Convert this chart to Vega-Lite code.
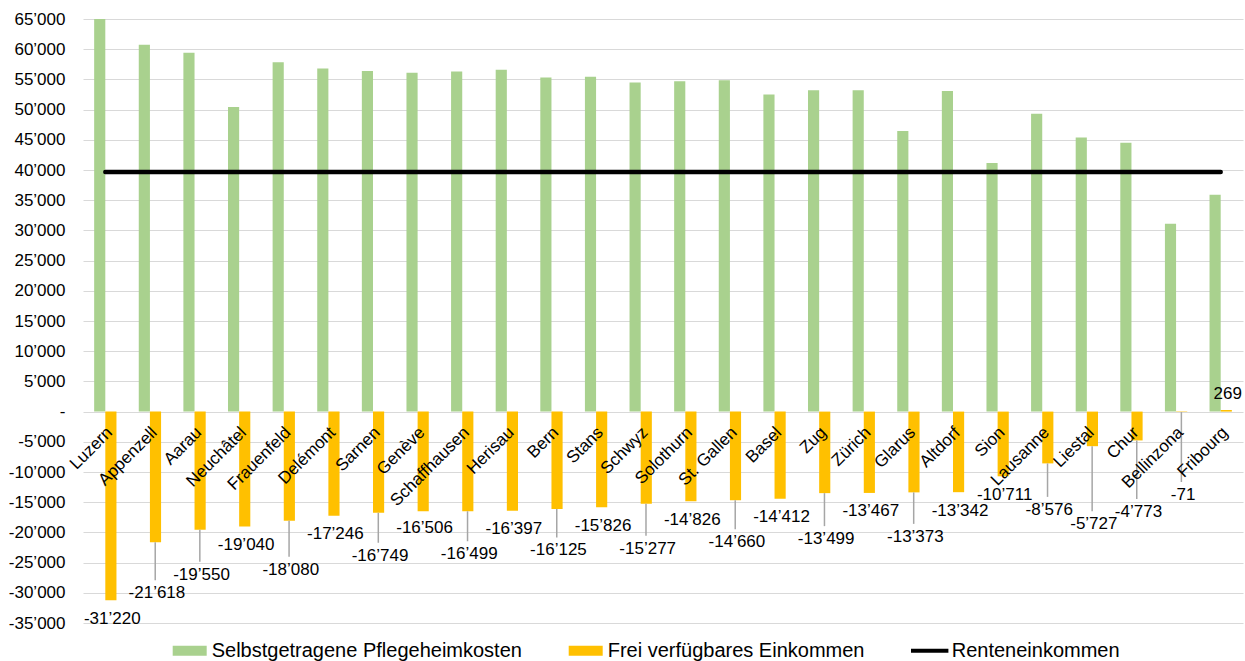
{
  "$schema": "https://vega.github.io/schema/vega-lite/v6.json",
  "autosize": {"type": "none"},
  "width": 1160,
  "height": 604,
  "padding": {"left": 83, "top": 19, "right": 2, "bottom": 38},
  "background": "white",
  "config": {
    "locale": {"number": {"decimal": ".", "thousands": "’", "grouping": [3], "currency": ["", ""], "minus": "-"}},
    "view": {"stroke": null},
    "font": "Liberation Sans",
    "axis": {"labelOverlap": false, "labelFlush": false, "labelBound": false}
  },
  "params": [
    {"name": "off", "value": {
      "Luzern": 19, "Appenzell": 51, "Aarau": 45, "Neuchâtel": 18.5, "Frauenfeld": 49, "Delémont": 18.5,
      "Sarnen": 43, "Genève": 17, "Schaffhausen": 43, "Herisau": 18.5, "Bern": 41.5, "Stans": 18.5,
      "Schwyz": 45, "Solothurn": 18.5, "St. Gallen": 42, "Basel": 18.5, "Zug": 46, "Zürich": 18.5,
      "Glarus": 44.5, "Altdorf": 18.5, "Sion": 18.5, "Lausanne": 46.5, "Liestal": 78, "Chur": 71.5,
      "Bellinzona": 83, "Fribourg": -16
    }}
  ],
  "data": {"values": [
    {"stadt": "Luzern", "reihe": "Selbstgetragene Pflegeheimkosten", "wert": 65000},
    {"stadt": "Luzern", "reihe": "Frei verfügbares Einkommen", "wert": -31220},
    {"stadt": "Luzern", "reihe": "Renteneinkommen", "wert": 39650},
    {"stadt": "Appenzell", "reihe": "Selbstgetragene Pflegeheimkosten", "wert": 60750},
    {"stadt": "Appenzell", "reihe": "Frei verfügbares Einkommen", "wert": -21618},
    {"stadt": "Appenzell", "reihe": "Renteneinkommen", "wert": 39650},
    {"stadt": "Aarau", "reihe": "Selbstgetragene Pflegeheimkosten", "wert": 59400},
    {"stadt": "Aarau", "reihe": "Frei verfügbares Einkommen", "wert": -19550},
    {"stadt": "Aarau", "reihe": "Renteneinkommen", "wert": 39650},
    {"stadt": "Neuchâtel", "reihe": "Selbstgetragene Pflegeheimkosten", "wert": 50450},
    {"stadt": "Neuchâtel", "reihe": "Frei verfügbares Einkommen", "wert": -19040},
    {"stadt": "Neuchâtel", "reihe": "Renteneinkommen", "wert": 39650},
    {"stadt": "Frauenfeld", "reihe": "Selbstgetragene Pflegeheimkosten", "wert": 57850},
    {"stadt": "Frauenfeld", "reihe": "Frei verfügbares Einkommen", "wert": -18080},
    {"stadt": "Frauenfeld", "reihe": "Renteneinkommen", "wert": 39650},
    {"stadt": "Delémont", "reihe": "Selbstgetragene Pflegeheimkosten", "wert": 56800},
    {"stadt": "Delémont", "reihe": "Frei verfügbares Einkommen", "wert": -17246},
    {"stadt": "Delémont", "reihe": "Renteneinkommen", "wert": 39650},
    {"stadt": "Sarnen", "reihe": "Selbstgetragene Pflegeheimkosten", "wert": 56400},
    {"stadt": "Sarnen", "reihe": "Frei verfügbares Einkommen", "wert": -16749},
    {"stadt": "Sarnen", "reihe": "Renteneinkommen", "wert": 39650},
    {"stadt": "Genève", "reihe": "Selbstgetragene Pflegeheimkosten", "wert": 56100},
    {"stadt": "Genève", "reihe": "Frei verfügbares Einkommen", "wert": -16506},
    {"stadt": "Genève", "reihe": "Renteneinkommen", "wert": 39650},
    {"stadt": "Schaffhausen", "reihe": "Selbstgetragene Pflegeheimkosten", "wert": 56300},
    {"stadt": "Schaffhausen", "reihe": "Frei verfügbares Einkommen", "wert": -16499},
    {"stadt": "Schaffhausen", "reihe": "Renteneinkommen", "wert": 39650},
    {"stadt": "Herisau", "reihe": "Selbstgetragene Pflegeheimkosten", "wert": 56600},
    {"stadt": "Herisau", "reihe": "Frei verfügbares Einkommen", "wert": -16397},
    {"stadt": "Herisau", "reihe": "Renteneinkommen", "wert": 39650},
    {"stadt": "Bern", "reihe": "Selbstgetragene Pflegeheimkosten", "wert": 55300},
    {"stadt": "Bern", "reihe": "Frei verfügbares Einkommen", "wert": -16125},
    {"stadt": "Bern", "reihe": "Renteneinkommen", "wert": 39650},
    {"stadt": "Stans", "reihe": "Selbstgetragene Pflegeheimkosten", "wert": 55450},
    {"stadt": "Stans", "reihe": "Frei verfügbares Einkommen", "wert": -15826},
    {"stadt": "Stans", "reihe": "Renteneinkommen", "wert": 39650},
    {"stadt": "Schwyz", "reihe": "Selbstgetragene Pflegeheimkosten", "wert": 54500},
    {"stadt": "Schwyz", "reihe": "Frei verfügbares Einkommen", "wert": -15277},
    {"stadt": "Schwyz", "reihe": "Renteneinkommen", "wert": 39650},
    {"stadt": "Solothurn", "reihe": "Selbstgetragene Pflegeheimkosten", "wert": 54700},
    {"stadt": "Solothurn", "reihe": "Frei verfügbares Einkommen", "wert": -14826},
    {"stadt": "Solothurn", "reihe": "Renteneinkommen", "wert": 39650},
    {"stadt": "St. Gallen", "reihe": "Selbstgetragene Pflegeheimkosten", "wert": 54850},
    {"stadt": "St. Gallen", "reihe": "Frei verfügbares Einkommen", "wert": -14660},
    {"stadt": "St. Gallen", "reihe": "Renteneinkommen", "wert": 39650},
    {"stadt": "Basel", "reihe": "Selbstgetragene Pflegeheimkosten", "wert": 52500},
    {"stadt": "Basel", "reihe": "Frei verfügbares Einkommen", "wert": -14412},
    {"stadt": "Basel", "reihe": "Renteneinkommen", "wert": 39650},
    {"stadt": "Zug", "reihe": "Selbstgetragene Pflegeheimkosten", "wert": 53200},
    {"stadt": "Zug", "reihe": "Frei verfügbares Einkommen", "wert": -13499},
    {"stadt": "Zug", "reihe": "Renteneinkommen", "wert": 39650},
    {"stadt": "Zürich", "reihe": "Selbstgetragene Pflegeheimkosten", "wert": 53200},
    {"stadt": "Zürich", "reihe": "Frei verfügbares Einkommen", "wert": -13467},
    {"stadt": "Zürich", "reihe": "Renteneinkommen", "wert": 39650},
    {"stadt": "Glarus", "reihe": "Selbstgetragene Pflegeheimkosten", "wert": 46450},
    {"stadt": "Glarus", "reihe": "Frei verfügbares Einkommen", "wert": -13373},
    {"stadt": "Glarus", "reihe": "Renteneinkommen", "wert": 39650},
    {"stadt": "Altdorf", "reihe": "Selbstgetragene Pflegeheimkosten", "wert": 53100},
    {"stadt": "Altdorf", "reihe": "Frei verfügbares Einkommen", "wert": -13342},
    {"stadt": "Altdorf", "reihe": "Renteneinkommen", "wert": 39650},
    {"stadt": "Sion", "reihe": "Selbstgetragene Pflegeheimkosten", "wert": 41150},
    {"stadt": "Sion", "reihe": "Frei verfügbares Einkommen", "wert": -10711},
    {"stadt": "Sion", "reihe": "Renteneinkommen", "wert": 39650},
    {"stadt": "Lausanne", "reihe": "Selbstgetragene Pflegeheimkosten", "wert": 49300},
    {"stadt": "Lausanne", "reihe": "Frei verfügbares Einkommen", "wert": -8576},
    {"stadt": "Lausanne", "reihe": "Renteneinkommen", "wert": 39650},
    {"stadt": "Liestal", "reihe": "Selbstgetragene Pflegeheimkosten", "wert": 45400},
    {"stadt": "Liestal", "reihe": "Frei verfügbares Einkommen", "wert": -5727},
    {"stadt": "Liestal", "reihe": "Renteneinkommen", "wert": 39650},
    {"stadt": "Chur", "reihe": "Selbstgetragene Pflegeheimkosten", "wert": 44500},
    {"stadt": "Chur", "reihe": "Frei verfügbares Einkommen", "wert": -4773},
    {"stadt": "Chur", "reihe": "Renteneinkommen", "wert": 39650},
    {"stadt": "Bellinzona", "reihe": "Selbstgetragene Pflegeheimkosten", "wert": 31100},
    {"stadt": "Bellinzona", "reihe": "Frei verfügbares Einkommen", "wert": -71},
    {"stadt": "Bellinzona", "reihe": "Renteneinkommen", "wert": 39650},
    {"stadt": "Fribourg", "reihe": "Selbstgetragene Pflegeheimkosten", "wert": 35900},
    {"stadt": "Fribourg", "reihe": "Frei verfügbares Einkommen", "wert": 269},
    {"stadt": "Fribourg", "reihe": "Renteneinkommen", "wert": 39650}
  ]},
  "encoding": {
    "x": {"field": "stadt", "type": "nominal", "sort": null, "axis": null, "scale": {"paddingInner": 0, "paddingOuter": 0}}
  },
  "layer": [
    {
      "transform": [{"filter": "datum.reihe !== 'Renteneinkommen'"}],
      "mark": {"type": "bar"},
      "encoding": {
        "xOffset": {"field": "reihe", "type": "nominal", "sort": ["Selbstgetragene Pflegeheimkosten", "Frei verfügbares Einkommen"], "scale": {"paddingInner": 0, "paddingOuter": 1.125}},
        "y": {
          "field": "wert", "type": "quantitative",
          "scale": {"domain": [-35000, 65000], "nice": false, "zero": false},
          "axis": {
            "values": [-35000, -30000, -25000, -20000, -15000, -10000, -5000, 0, 5000, 10000, 15000, 20000, 25000, 30000, 35000, 40000, 45000, 50000, 55000, 60000, 65000],
            "tickCount": 30,
            "format": ",d",
            "labelExpr": "datum.value === 0 ? '-' : datum.label",
            "labelOverlap": false, "labelFlush": false,
            "ticks": false, "domain": false, "labelPadding": 18,
            "labelFontSize": 17, "labelFont": "Liberation Sans", "labelColor": "#000000",
            "gridColor": "#d9d9d9", "gridWidth": 1, "title": null,
            "encode": {"labels": {"update": {"dx": {"signal": "datum.value === 0 ? -11 : 0"}}}}
          }
        },
        "color": {
          "field": "reihe", "type": "nominal",
          "scale": {"domain": ["Selbstgetragene Pflegeheimkosten", "Frei verfügbares Einkommen", "Renteneinkommen"], "range": ["#a9d18e", "#ffc000", "#000000"]},
          "legend": {
            "orient": "none", "legendX": 89.7, "legendY": 614.7, "direction": "horizontal", "title": null,
            "labelFontSize": 20, "labelFont": "Liberation Sans", "labelColor": "#000000", "labelLimit": 600,
            "labelOffset": 5, "columnPadding": 46, "symbolSize": 1156, "padding": 0,
            "encode": {"symbols": {"update": {
              "shape": {"signal": "datum.value === 'Renteneinkommen' ? 'M-1.1,-0.12H1.1V0.12H-1.1Z' : 'M-1,-0.29H1V0.29H-1Z'"},
              "fill": {"scale": "color", "field": "value"},
              "strokeWidth": {"value": 0},
              "opacity": {"value": 1}
            }}}
          }
        }
      }
    },
    {
      "transform": [{"filter": "datum.reihe === 'Renteneinkommen'"}],
      "mark": {"type": "line", "strokeWidth": 4.5, "strokeCap": "round"},
      "encoding": {
        "y": {"field": "wert", "type": "quantitative"},
        "color": {"field": "reihe", "type": "nominal"}
      }
    },
    {
      "transform": [{"filter": "datum.reihe === 'Frei verfügbares Einkommen' && off[datum.stadt] > 30"}],
      "mark": {"type": "rule", "color": "#a6a6a6", "strokeWidth": 1.5, "xOffset": 5.3, "y2Offset": {"expr": "off[datum.stadt] - 13"}},
      "encoding": {
        "y": {"field": "wert", "type": "quantitative"},
        "y2": {"field": "wert"}
      }
    },
    {
      "transform": [{"filter": "datum.reihe === 'Frei verfügbares Einkommen'"}],
      "mark": {"type": "text", "fontSize": 17, "font": "Liberation Sans", "color": "#000000", "baseline": "middle", "align": "center", "dx": 7, "dy": {"expr": "off[datum.stadt]"}},
      "encoding": {
        "y": {"field": "wert", "type": "quantitative"},
        "text": {"field": "wert", "type": "quantitative", "format": ",d"}
      }
    },
    {
      "transform": [{"filter": "datum.reihe === 'Renteneinkommen'"}],
      "mark": {"type": "text", "fontSize": 17, "font": "Liberation Sans", "color": "#000000", "angle": 315, "align": "right", "baseline": "alphabetic", "xOffset": 8, "yOffset": 22},
      "encoding": {
        "y": {"datum": 0, "type": "quantitative"},
        "text": {"field": "stadt"}
      }
    }
  ]
}
